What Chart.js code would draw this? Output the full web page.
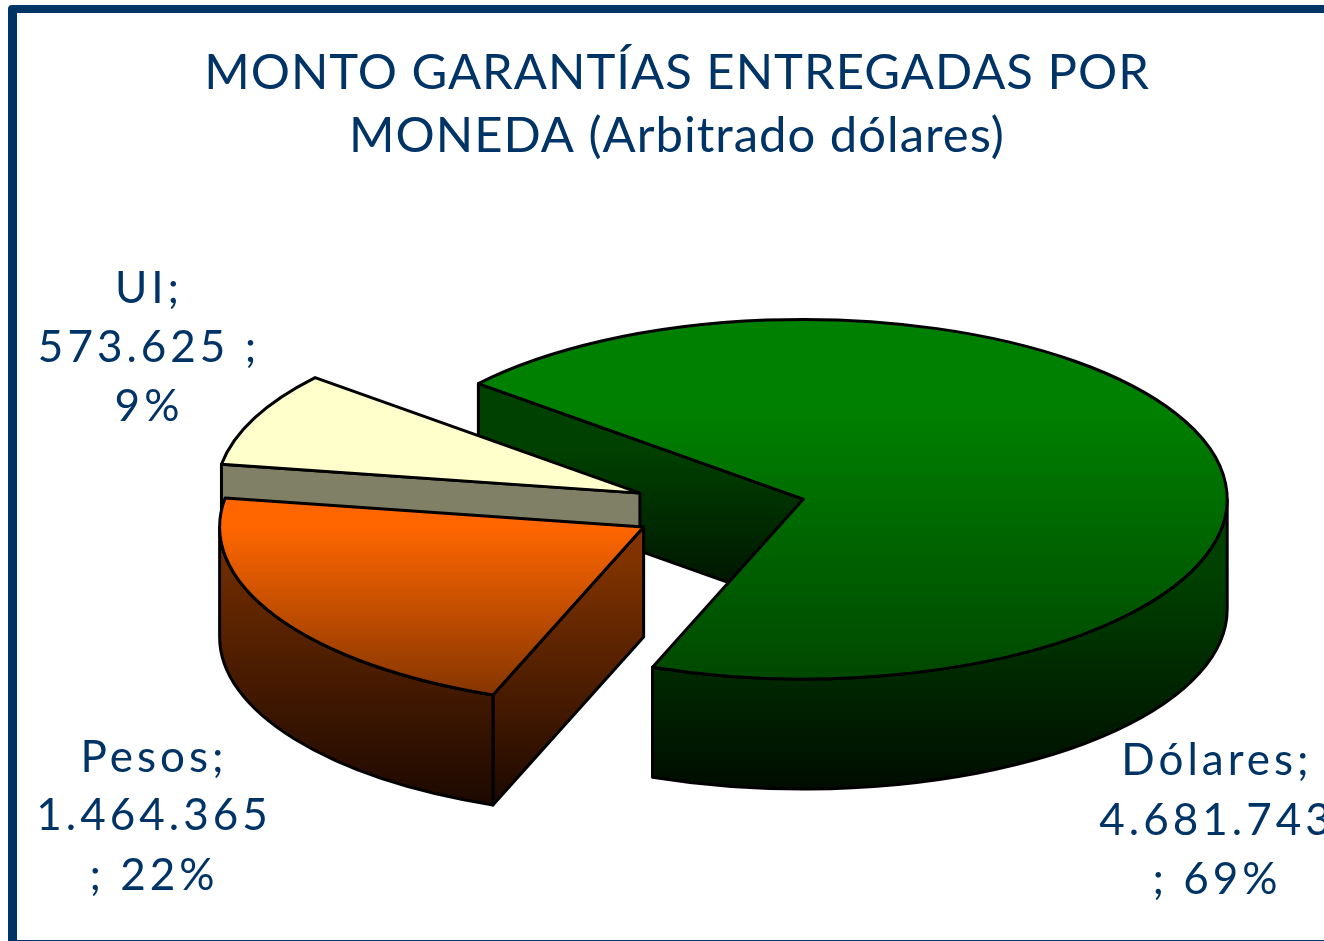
<!DOCTYPE html>
<html>
<head>
<meta charset="utf-8">
<style>
html,body{margin:0;padding:0;background:#fff;overflow:hidden}
canvas{display:block}
</style>
<script src="https://cdn.jsdelivr.net/npm/chart.js@4/dist/chart.umd.min.js"></script>
</head>
<body>
<div style="width:1324px;height:941px"><canvas id="c" width="1324" height="941"></canvas></div>
<script>
const titleLines = ["MONTO GARANTÍAS ENTREGADAS POR", "MONEDA (Arbitrado dólares)"];
const categories = ["Dólares", "Pesos", "UI"];
const values = [4681743, 1464365, 573625];
const percentLabels = ["69%", "22%", "9%"];
const valueLabels = ["4.681.743", "1.464.365", "573.625"];
const topColors = [["#008000", "#004800"], ["#ff6600", "#853500"], ["#ffffcc", "#ffffcc"]];
const topHold = [0.25, 0.15, 0];
const rimColors = [["#004000", "#000c00"], ["#803300", "#1c0800"], ["#808066", "#808066"]];
const rimHold = [0.55, 0.05, 0];
const cutColors = [["#004000", "#000f00"], ["#803300", "#1c0800"], ["#808066", "#808066"]];
const cutHold = [0.3, 0.12, 0];
const drawOrder = [0, 2, 1];

const INK = "#003366";
const FONT = "Lato, 'Noto Sans', sans-serif";
const squash = 0.424, depth = 110, explode = 87, radius = 424;
const pieCenter = {x: 719, y: 508.5};

const labelLayout = [
  {x: 1217, ys: [761, 821, 880], lines: i => [categories[i] + ";", valueLabels[i], "; " + percentLabels[i]]},
  {x: 154,  ys: [758, 816, 876], lines: i => [categories[i] + ";", valueLabels[i], "; " + percentLabels[i]]},
  {x: 149,  ys: [289, 348, 407], lines: i => [categories[i] + ";", valueLabels[i] + " ;", percentLabels[i]]}
];

function sliceBBox(a0, a1) {
  let lo = 0, hi = 0;
  const check = a => { const s = Math.sin(a); lo = Math.min(lo, s); hi = Math.max(hi, s); };
  check(a0); check(a1);
  for (let n = -4; n <= 4; n++) {
    const q = Math.PI / 2 + n * Math.PI;
    if (q > a0 && q < a1) check(q);
  }
  return {lo, hi};
}

function visibleFront(a0, a1) {
  const spans = [];
  for (let n = -2; n <= 2; n++) {
    const s = Math.max(a0, 2 * Math.PI * n), e = Math.min(a1, 2 * Math.PI * n + Math.PI);
    if (e > s) spans.push([s, e]);
  }
  return spans;
}

function ramp(ctx, y0, y1, colors, hold) {
  const g = ctx.createLinearGradient(0, y0, 0, y1);
  g.addColorStop(0, colors[0]);
  g.addColorStop(hold, colors[0]);
  g.addColorStop(1, colors[1]);
  return g;
}

const pie3d = {
  id: "pie3d",
  beforeDraw(chart) {
    const ctx = chart.ctx;
    ctx.save();
    ctx.fillStyle = "#ffffff";
    ctx.fillRect(0, 0, chart.width, chart.height);
    ctx.fillStyle = INK;
    ctx.beginPath();
    ctx.roundRect(8, 5, chart.width - 8, 8, [4, 0, 0, 0]);
    ctx.fill();
    ctx.fillRect(8, 9, 9, chart.height - 9);
    ctx.fillRect(8, 940, chart.width - 8, 1);
    ctx.restore();
    ctx.letterSpacing = "1px";
  },
  beforeDatasetDraw(chart) {
    const ctx = chart.ctx;
    const arcs = chart.getDatasetMeta(0).data;
    drawOrder.forEach(i => {
      const arc = arcs[i];
      const {x, y, startAngle, endAngle, outerRadius} = arc.getProps(["x", "y", "startAngle", "endAngle", "outerRadius"]);
      const r = outerRadius, mid = (startAngle + endAngle) / 2;
      const cx = pieCenter.x + Math.cos(mid) * explode;
      const cy = pieCenter.y + Math.sin(mid) * explode * squash;
      const bb = sliceBBox(startAngle, endAngle);
      const px = a => cx + Math.cos(a) * r;
      const py = a => cy + Math.sin(a) * r * squash;

      ctx.save();
      ctx.lineWidth = 3;
      ctx.lineJoin = "round";
      ctx.strokeStyle = "#000";
      // cut faces that look toward the viewer
      [[startAngle, Math.cos(startAngle) < 0], [endAngle, Math.cos(endAngle) > 0]].forEach(([a, visible]) => {
        if (!visible) return;
        ctx.fillStyle = ramp(ctx, Math.min(cy, py(a)), Math.max(cy, py(a)) + depth, cutColors[i], cutHold[i]);
        ctx.beginPath();
        ctx.moveTo(cx, cy);
        ctx.lineTo(px(a), py(a));
        ctx.lineTo(px(a), py(a) + depth);
        ctx.lineTo(cx, cy + depth);
        ctx.closePath();
        ctx.fill();
        ctx.stroke();
      });
      // outer rim
      visibleFront(startAngle, endAngle).forEach(([a, b]) => {
        ctx.fillStyle = ramp(ctx, cy + bb.lo * r * squash, cy + bb.hi * r * squash + depth, rimColors[i], rimHold[i]);
        ctx.beginPath();
        ctx.ellipse(cx, cy, r, r * squash, 0, a, b);
        ctx.ellipse(cx, cy + depth, r, r * squash, 0, b, a, true);
        ctx.closePath();
        ctx.fill();
        ctx.stroke();
      });
      // top face: the library's own arc, squashed
      ctx.save();
      ctx.translate(cx, cy);
      ctx.scale(1, squash);
      ctx.translate(-x, -y);
      const g = ramp(ctx, y + bb.lo * r, y + bb.hi * r, topColors[i], topHold[i]);
      arc.options = Object.assign({}, arc.options, {backgroundColor: g, borderWidth: 0});
      arc.draw(ctx);
      ctx.restore();
      // outline of the top face
      ctx.beginPath();
      ctx.moveTo(cx, cy);
      ctx.ellipse(cx, cy, r, r * squash, 0, startAngle, endAngle);
      ctx.closePath();
      ctx.stroke();
      ctx.restore();
    });
    return false;
  },
  afterDraw(chart) {
    const ctx = chart.ctx;
    ctx.save();
    ctx.font = "44px " + FONT;
    ctx.fillStyle = INK;
    ctx.textAlign = "center";
    ctx.textBaseline = "middle";
    ctx.letterSpacing = "4px";
    labelLayout.forEach((l, i) => {
      l.lines(i).forEach((t, j) => ctx.fillText(t, l.x, l.ys[j]));
    });
    ctx.restore();
  }
};

new Chart(document.getElementById("c"), {
  type: "pie",
  data: {
    labels: categories,
    datasets: [{data: values, borderWidth: 0, offset: 0}]
  },
  plugins: [pie3d],
  options: {
    responsive: false,
    animation: false,
    rotation: -50,
    radius: radius,
    layout: {padding: {left: 30, right: 0, top: 0, bottom: 0}},
    plugins: {
      legend: {display: false},
      tooltip: {enabled: false},
      title: {
        display: true,
        text: titleLines,
        color: INK,
        font: {family: FONT, size: 49, weight: "normal", lineHeight: 1.296},
        padding: {top: 41, bottom: 0}
      }
    }
  }
});
</script>
</body>
</html>
